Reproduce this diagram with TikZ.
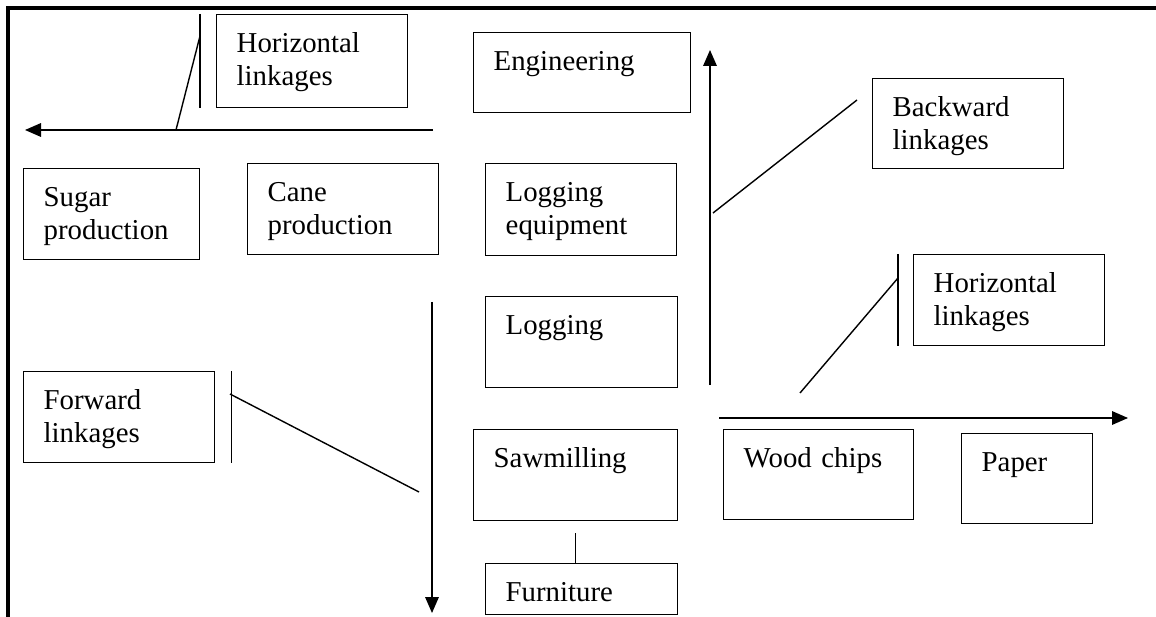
\documentclass[tikz,border=0pt]{standalone}
\usepackage{fontspec}
\setmainfont{Liberation Serif}
\usetikzlibrary{arrows.meta}

\begin{document}
\begin{tikzpicture}[line width=1pt, font=\fontsize{20.5}{23.4}\selectfont,
    box/.style 2 args={draw, anchor=north west, align=left, inner xsep=0.5cm, inner ysep=0pt,
        text width=#1cm-1cm, text height=0.95cm, text depth=#2cm-0.95cm}]
    \tikzstyle{frame}=[line width=2.3pt]
    \tikzstyle{arrow}=[-{Triangle[length=0.4cm,width=0.34cm]}]

    \useasboundingbox (0,0) rectangle (28.9,-15.425);

    % Frame
    \draw[frame] (28.9,-0.2) -- (0.2,-0.2) -- (0.2,-15.425);

    % Draw boxes
    \node[box={4.775}{2.325}] (hlinkA) at (5.4,-0.35) {Horizontal\\linkages};
    \node[box={5.425}{2.0}] (eng) at (11.825,-0.8) {Engineering};
    \node[box={4.775}{2.25}] (back) at (21.8,-1.95) {Backward\\linkages};
    \node[box={4.4}{2.275}] (sugar) at (0.575,-4.2) {Sugar\\production};
    \node[box={4.775}{2.275}] (cane) at (6.175,-4.075) {Cane\\production};
    \node[box={4.775}{2.3}] (logeq) at (12.125,-4.075) {Logging\\equipment};
    \node[box={4.8}{2.275}] (logging) at (12.125,-7.4) {Logging};
    \node[box={4.775}{2.275}] (hlinkB) at (22.825,-6.35) {Horizontal\\linkages};
    \node[box={4.775}{2.275}] (forward) at (0.575,-9.275) {Forward\\linkages};
    \node[box={5.1}{2.275}] (saw) at (11.825,-10.725) {Sawmilling};
    \node[box={4.75}{2.25}] (chips) at (18.075,-10.725) {Wood chips};
    \node[box={3.275}{2.25}] (paper) at (24.025,-10.825) {Paper};
    \node[box={4.8}{1.275}] (furn) at (12.125,-14.075) {Furniture};

    % Free ends of the lines
    \coordinate (westA) at (10.825,-3.25);
    \coordinate (westB) at (0.625,-3.25);
    \coordinate (upA) at (17.75,-9.625);
    \coordinate (upB) at (17.75,-1.25);
    \coordinate (downA) at (10.8,-7.55);
    \coordinate (downB) at (10.8,-15.325);
    \coordinate (eastA) at (17.975,-10.45);
    \coordinate (eastB) at (28.2,-10.45);
    \coordinate (slantA1) at (5.0,-0.9);
    \coordinate (slantA2) at (4.4,-3.25);
    \coordinate (slantBk1) at (17.825,-5.325);
    \coordinate (slantBk2) at (21.425,-2.5);
    \coordinate (slantF1) at (5.75,-9.85);
    \coordinate (slantF2) at (10.475,-12.3);
    \coordinate (slantB1) at (22.45,-6.95);
    \coordinate (slantB2) at (20.0,-9.825);
    \coordinate (sawlow) at ([yshift=-0.3cm]saw.south);

    % Draw arrows
    \draw[arrow] (westA) -- (westB);
    \draw[arrow] (upA) -- (upB);
    \draw[arrow] (downA) -- (downB);
    \draw[arrow] (eastA) -- (eastB);

    % Bars and pointers
    \draw ([xshift=-0.4cm]hlinkA.north west) -- ([xshift=-0.4cm]hlinkA.south west);
    \draw (slantA1) -- (slantA2);
    \draw (slantBk1) -- (slantBk2);
    \draw ([xshift=0.4cm]forward.north east) -- ([xshift=0.4cm]forward.south east);
    \draw (slantF1) -- (slantF2);
    \draw ([xshift=-0.375cm]hlinkB.north west) -- ([xshift=-0.375cm]hlinkB.south west);
    \draw (slantB1) -- (slantB2);
    \draw (sawlow) -- (sawlow |- furn.north);

\end{tikzpicture}
\end{document}
